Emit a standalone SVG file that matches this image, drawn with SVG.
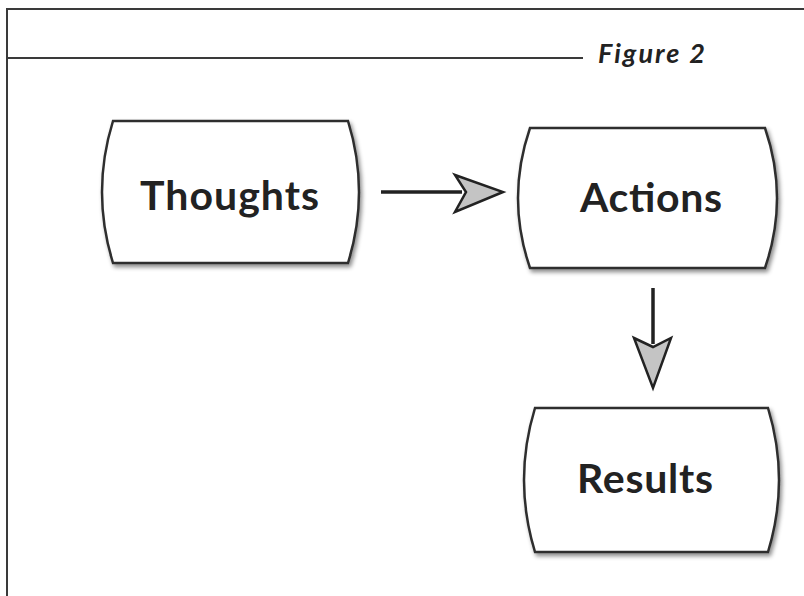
<svg xmlns="http://www.w3.org/2000/svg" width="804" height="596" viewBox="0 0 804 596">
  <style>
    .frame { fill: none; stroke: #3a3a3a; stroke-width: 2; }
    .box { fill: #ffffff; stroke: #2e2e2e; stroke-width: 2.5; filter: url(#shadow); }
    .label { font-family: Lato, "Open Sans", "Liberation Sans", sans-serif; font-weight: bold; font-size: 41px; fill: #222222; }
    .title { font-family: Lato, "Open Sans", "Liberation Sans", sans-serif; font-weight: bold; font-style: italic; font-size: 27px; fill: #222222; }
    .shaft { stroke: #222222; stroke-width: 3.5; fill: none; }
    .head { fill: #c4c4c4; stroke: #222222; stroke-width: 2.5; stroke-linejoin: miter; }
  </style>
  <defs>
    <filter id="shadow" x="-10%" y="-10%" width="125%" height="130%">
      <feDropShadow dx="2" dy="3" stdDeviation="2" flood-color="#000000" flood-opacity="0.45"/>
    </filter>
  </defs>

  <rect width="804" height="596" fill="#ffffff"/>

  <!-- page frame and title rule -->
  <path class="frame" d="M7,596 L7,9 L804,9"/>
  <line class="frame" x1="7" y1="58" x2="583" y2="58"/>
  <text class="title" x="598" y="63" textLength="107">Figure 2</text>

  <g id="thoughts">
    <path class="box" d="M113,121 L348,121 Q370,192 348,263 L113,263 Q91,192 113,121 Z"/>
    <text class="label" x="140" y="210" textLength="179">Thoughts</text>
  </g>

  <g id="actions">
    <path class="box" d="M530,128 L765,128 Q789,198 765,268 L530,268 Q506,198 530,128 Z"/>
    <text class="label" x="580" y="212" textLength="142">Actions</text>
  </g>

  <g id="results">
    <path class="box" d="M535,408 L768,408 Q790,480 768,552 L535,552 Q513,480 535,408 Z"/>
    <text class="label" x="577" y="493" textLength="136">Results</text>
  </g>

  <g id="connectors">
    <line class="shaft" x1="381" y1="192" x2="462" y2="192"/>
    <polygon class="head" points="455,175 503,192 455,212 466,192"/>
    <line class="shaft" x1="653" y1="288" x2="653" y2="344"/>
    <polygon class="head" points="634,338 653,347 671,338 653,388"/>
  </g>
</svg>
